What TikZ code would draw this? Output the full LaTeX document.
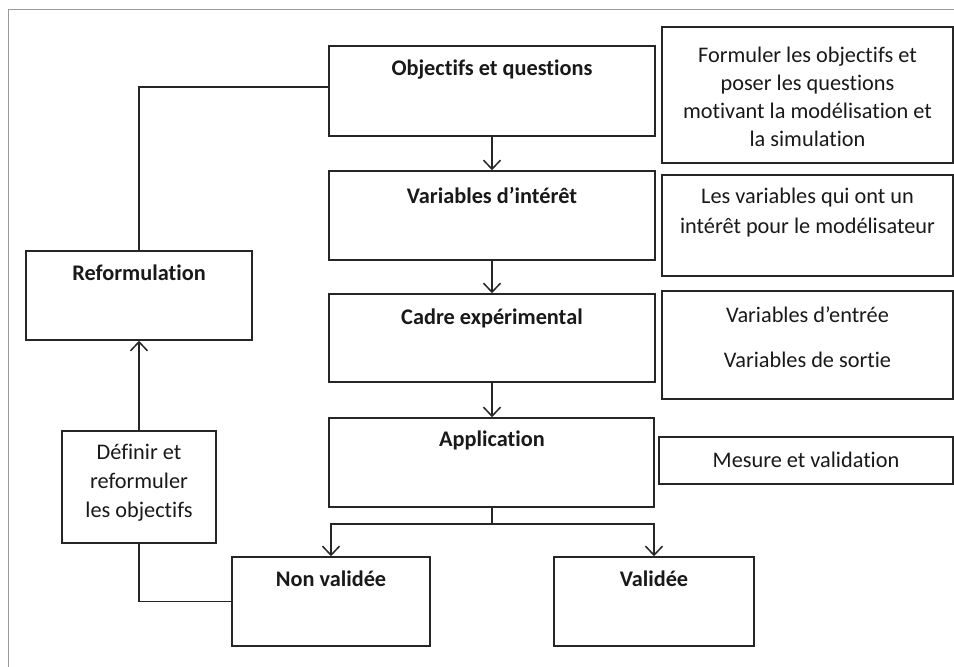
\documentclass[tikz,border=0pt]{standalone}
\usepackage{fontspec}
\setmainfont{Carlito}[Ligatures={NoCommon}]
\usetikzlibrary{arrows.meta}
\begin{document}
\begin{tikzpicture}[x=1pt,y=-1pt,
  box/.style={draw=black!85, line width=1.5pt, rectangle, inner sep=0pt},
  txt/.style={font=\fontsize{22.3}{28}\selectfont, align=center, inner sep=0pt, text=black!90},
  ttl/.style={font=\fontsize{22.3}{28}\selectfont\bfseries, align=center, inner sep=0pt, text=black!90},
  conn/.style={draw=black!85, line width=1.5pt},
  arr/.style={conn, -{Straight Barb[length=9pt,width=17pt,line width=1.5pt]}},
  frame/.style={draw=black!40, line width=1pt}]
\useasboundingbox (0,0) rectangle (954,667);
\fill[white] (0,0) rectangle (954,667);
\coordinate (ftop) at (954,9);
\coordinate (fcorner) at (8,9);
\coordinate (fbot) at (8,667);
\draw[frame] (ftop) -- (fcorner) -- (fbot);

% central column
\node[box, minimum width=326, minimum height=90] (obj) at (492,91) {};
\node[ttl] (objt) at (492,70) {Objectifs et questions};
\node[box, minimum width=326, minimum height=89] (var) at (492,215.5) {};
\node[ttl] (vart) at (492,195) {Variables d’intérêt};
\node[box, minimum width=326, minimum height=88] (cad) at (492,338) {};
\node[ttl] (cadt) at (492,318) {Cadre expérimental};
\node[box, minimum width=325, minimum height=89] (app) at (491.5,462.5) {};
\node[ttl] (appt) at (492,440) {Application};

% outcomes
\node[box, minimum width=198, minimum height=89] (nv) at (331,601.5) {};
\node[ttl] (nvt) at (331,579) {Non validée};
\node[box, minimum width=200, minimum height=89] (va) at (654,601.5) {};
\node[ttl] (vat) at (654,579) {Validée};

% left column
\node[box, minimum width=226, minimum height=89] (ref) at (139,295.5) {};
\node[ttl] (reft) at (139,273) {Reformulation};
\node[box, minimum width=154, minimum height=112] (def) at (139,487) {};
\node[txt, font=\fontsize{22.3}{29}\selectfont] (deft) at (139,483) {Définir et\\reformuler\\les objectifs};

% right column
\node[box, minimum width=291, minimum height=136] (d1) at (807.5,95) {};
\node[txt] (d1t) at (807.5,97) {Formuler les objectifs et\\poser les questions\\motivant la modélisation et\\la simulation};
\node[box, minimum width=291, minimum height=101] (d2) at (807.5,225.5) {};
\node[txt, font=\fontsize{22.3}{30}\selectfont] (d2t) at (807.5,213) {Les variables qui ont un\\intérêt pour le modélisateur};
\node[box, minimum width=291, minimum height=108] (d3) at (807.5,345) {};
\node[txt, font=\fontsize{22.3}{45}\selectfont] (d3t) at (807.5,337.5) {Variables d’entrée\\Variables de sortie};
\node[box, minimum width=294, minimum height=47] (d4) at (806,460.5) {};
\node[txt] (d4t) at (806,460) {Mesure et validation};

% connectors
\draw[arr] (obj.south) -- (var.north);
\draw[arr] (var.south) -- (cad.north);
\draw[arr] (cad.south) -- (app.north -| cad.south);
\coordinate (split) at ([yshift=-16pt]app.south -| cad.south);
\draw[conn] (app.south -| cad.south) -- (split);
\draw[arr] (split) -| (nv.north);
\draw[arr] (split) -| (va.north);
\draw[conn] (nv.west) -| (def.south);
\draw[arr] (def.north) -- (ref.south);
\draw[conn] (ref.north) |- ([yshift=4pt]obj.west);
\end{tikzpicture}
\end{document}
